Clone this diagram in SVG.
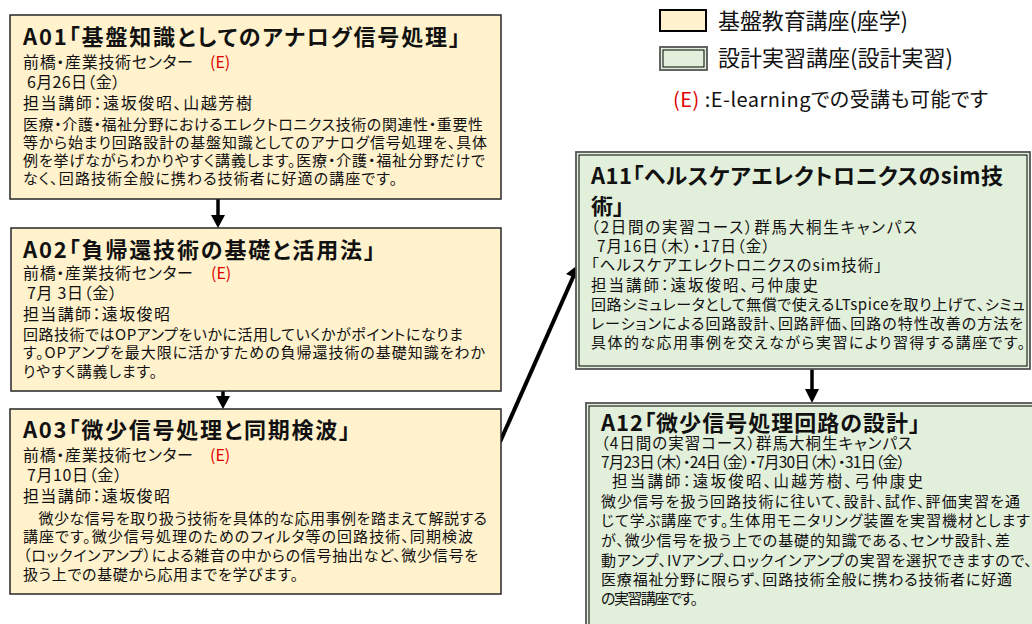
<svg xmlns="http://www.w3.org/2000/svg" width="1032" height="624" viewBox="0 0 1032 624">
<style>
text{font-family:"Noto Sans CJK JP","Noto Sans CJK SC",sans-serif;fill:#111;font-feature-settings:"palt"}
.ttl{font-size:22px;font-weight:bold}
.inf{font-size:16px}
.inf2{font-size:15.5px}
.bd{font-size:15px}
.red{fill:#e00000}
.yb{fill:#FFF2CC;stroke:#262626;stroke-width:1.5}
.go{fill:#E2EFDA;stroke:#555;stroke-width:1.8}
.gi{fill:none;stroke:#000;stroke-width:1}
.ln{stroke:#000;stroke-width:3.5;fill:none}
.ah{fill:#000}
</style>
<rect width="1032" height="624" fill="#fff"/>

<g id="legend">
<rect x="660" y="10" width="46" height="21" fill="#FFF2CC" stroke="#000" stroke-width="2"/>
<text x="718" y="29" style="font-size:22px" textLength="190">基盤教育講座(座学)</text>
<rect x="660" y="47" width="47" height="23" class="go"/>
<rect x="663" y="50" width="41" height="17" class="gi"/>
<text x="718" y="66" style="font-size:22px" textLength="235">設計実習講座(設計実習)</text>
<text x="673" y="107" style="font-size:20px" textLength="315"><tspan class="red">(E)</tspan> :E-learningでの受講も可能です</text>
</g>

<g id="connectors">
<line class="ln" x1="218" y1="199" x2="218" y2="216"/>
<polygon class="ah" points="211,215 225,215 218,228"/>
<line class="ln" x1="223" y1="391" x2="223" y2="397"/>
<polygon class="ah" points="216,396 230,396 223,409"/>
<line class="ln" x1="500" y1="442" x2="574" y2="275" style="stroke-width:4"/>
<polygon class="ah" points="579,264 580,280 566,274"/>
<line class="ln" x1="812" y1="369" x2="812" y2="390"/>
<polygon class="ah" points="805,389 819,389 812,403"/>
</g>

<g id="A01">
<rect x="10" y="15" width="491" height="184" class="yb"/>
<text x="23" y="45" class="ttl" textLength="437">A01「基盤知識としてのアナログ信号処理」</text>
<text x="23" y="68" class="inf" textLength="170">前橋・産業技術センター</text>
<text x="210" y="68" class="inf red">(E)</text>
<text x="27" y="88" class="inf" textLength="93">6月26日（金）</text>
<text x="23" y="109" class="inf" textLength="229">担当講師：遠坂俊昭、山越芳樹</text>
<text x="23" y="130" class="bd" textLength="460">医療・介護・福祉分野におけるエレクトロニクス技術の関連性・重要性</text>
<text x="23" y="148" class="bd" textLength="464">等から始まり回路設計の基盤知識としてのアナログ信号処理を、具体</text>
<text x="23" y="166" class="bd" textLength="462">例を挙げながらわかりやすく講義します。医療・介護・福祉分野だけで</text>
<text x="23" y="184" class="bd" textLength="374">なく、回路技術全般に携わる技術者に好適の講座です。</text>
</g>

<g id="A02">
<rect x="11" y="228" width="490" height="163" class="yb"/>
<text x="23" y="258" class="ttl" textLength="352">A02「負帰還技術の基礎と活用法」</text>
<text x="23" y="279" class="inf" textLength="170">前橋・産業技術センター</text>
<text x="211" y="279" class="inf red">(E)</text>
<text x="27" y="299" class="inf" textLength="90">7月 3日（金）</text>
<text x="23" y="320" class="inf" textLength="147">担当講師：遠坂俊昭</text>
<text x="23" y="340" class="bd" textLength="440">回路技術ではOPアンプをいかに活用していくかがポイントになりま</text>
<text x="23" y="358" class="bd" textLength="462">す。OPアンプを最大限に活かすための負帰還技術の基礎知識をわか</text>
<text x="23" y="377" class="bd" textLength="134">りやすく講義します。</text>
</g>

<g id="A03">
<rect x="10" y="409" width="491" height="185" class="yb"/>
<text x="23" y="438" class="ttl" textLength="327">A03「微少信号処理と同期検波」</text>
<text x="23" y="461" class="inf" textLength="170">前橋・産業技術センター</text>
<text x="210" y="461" class="inf red">(E)</text>
<text x="27" y="481" class="inf" textLength="95">7月10日（金）</text>
<text x="23" y="502" class="inf" textLength="147">担当講師：遠坂俊昭</text>
<text x="23" y="524" class="bd" textLength="464">　微少な信号を取り扱う技術を具体的な応用事例を踏まえて解説する</text>
<text x="23" y="542" class="bd" textLength="450">講座です。微少信号処理のためのフィルタ等の回路技術、同期検波</text>
<text x="23" y="561" class="bd" textLength="455">（ロックインアンプ）による雑音の中からの信号抽出など、微少信号を</text>
<text x="23" y="580" class="bd" textLength="275">扱う上での基礎から応用までを学びます。</text>
</g>

<g id="A11">
<rect x="576" y="152" width="454" height="217" class="go"/>
<rect x="579" y="155" width="448" height="211" class="gi"/>
<text x="591" y="184" class="ttl" textLength="412">A11「ヘルスケアエレクトロニクスのsim技</text>
<text x="591" y="214" class="ttl">術」</text>
<text x="591" y="233" class="inf2" textLength="326">（2日間の実習コース）群馬大桐生キャンパス</text>
<text x="597" y="252" class="inf2" textLength="173">7月16日（木）・17日（金）</text>
<text x="591" y="271" class="inf2" textLength="291">「ヘルスケアエレクトロニクスのsim技術」</text>
<text x="591" y="291" class="inf2" textLength="227">担当講師：遠坂俊昭、弓仲康史</text>
<text x="591" y="310" class="bd" textLength="434">回路シミュレータとして無償で使えるLTspiceを取り上げて、シミュ</text>
<text x="591" y="329" class="bd" textLength="432">レーションによる回路設計、回路評価、回路の特性改善の方法を</text>
<text x="591" y="348" class="bd" textLength="434">具体的な応用事例を交えながら実習により習得する講座です。</text>
</g>

<g id="A12">
<rect x="586" y="403" width="460" height="240" class="go"/>
<rect x="589" y="406" width="454" height="234" class="gi"/>
<text x="601" y="431" class="ttl" textLength="319">A12「微少信号処理回路の設計」</text>
<text x="601" y="449" class="inf2" textLength="311">（4日間の実習コース）群馬大桐生キャンパス</text>
<text x="601" y="468" class="inf2" textLength="304">7月23日（木）・24日（金）・7月30日（木）・31日（金）</text>
<text x="612" y="487" class="inf2" textLength="311">担当講師：遠坂俊昭、山越芳樹、弓仲康史</text>
<text x="601" y="507" class="bd" textLength="419">微少信号を扱う回路技術に往いて、設計、試作、評価実習を通</text>
<text x="601" y="526" class="bd" textLength="429">じて学ぶ講座です。生体用モニタリング装置を実習機材とします</text>
<text x="601" y="546" class="bd" textLength="409">が、微少信号を扱う上での基礎的知識である、センサ設計、差</text>
<text x="601" y="566" class="bd" textLength="431">動アンプ、IVアンプ、ロックインアンプの実習を選択できますので、</text>
<text x="601" y="585" class="bd" textLength="411">医療福祉分野に限らず、回路技術全般に携わる技術者に好適</text>
<text x="601" y="604" class="bd" textLength="97">の実習講座です。</text>
</g>
</svg>
